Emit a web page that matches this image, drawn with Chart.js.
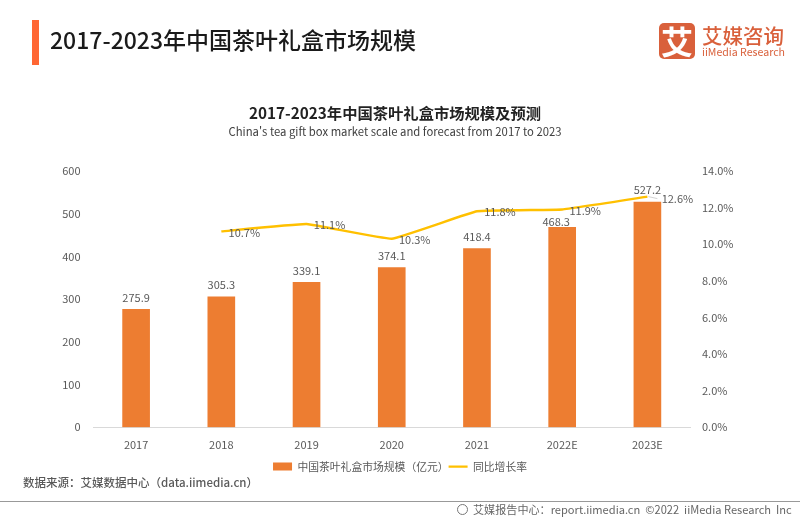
<!DOCTYPE html>
<html lang="zh">
<head>
<meta charset="utf-8">
<script src="https://cdn.jsdelivr.net/npm/chart.js@4"></script>
<style>
html,body{margin:0;padding:0;background:#fff;width:800px;height:520px;overflow:hidden;font-family:"Noto Sans CJK SC",sans-serif}
#wrap{position:relative;width:800px;height:520px}
canvas{position:absolute;left:0;top:0}
.t{position:absolute;white-space:nowrap;line-height:1}
</style>
</head>
<body>
<div id="wrap">
<canvas id="c" width="800" height="520"></canvas>
<div style="position:absolute;left:32px;top:20px;width:7px;height:45px;background:#FF6633"></div>
<div class="t" style="left:50px;top:28px;font-size:23px;font-weight:500;color:#1a1a1a">2017-2023年中国茶叶礼盒市场规模</div>
<div style="position:absolute;left:659px;top:23px;width:36px;height:36px;border-radius:5px;background:#D9603B;color:#fff;font-size:32px;line-height:34px;text-align:center;font-weight:700">艾</div>
<div class="t" style="left:702px;top:25px;font-size:20.5px;font-weight:500;color:#D9603B">艾媒咨询</div>
<div class="t" style="left:702px;top:47px;font-size:10.6px;color:#D9603B">iiMedia Research</div>
<div class="t" style="left:0;width:790px;text-align:center;top:105px;font-size:15.3px;font-weight:700;color:#222">2017-2023年中国茶叶礼盒市场规模及预测</div>
<div class="t" style="left:0;width:790px;text-align:center;top:126px;font-size:11.3px;color:#404040">China's tea gift box market scale and forecast from 2017 to 2023</div>
<div class="t" style="left:23px;top:477px;font-size:11.5px;font-weight:500;color:#595959">数据来源：艾媒数据中心（data.iimedia.cn）</div>
<div style="position:absolute;left:0;top:501px;width:800px;height:1px;background:#999"></div>
<div style="position:absolute;left:457px;top:504px;width:9px;height:9px;border:1.5px solid #777;border-radius:50%"></div>
<div class="t" style="left:473px;top:504px;font-size:11.1px;color:#666">艾媒报告中心：report.iimedia.cn &nbsp;©2022 &nbsp;iiMedia Research &nbsp;Inc</div>
</div>
<script>
const categories = ["2017","2018","2019","2020","2021","2022E","2023E"];
const marketScale = [275.9,305.3,339.1,374.1,418.4,468.3,527.2];
const growthRate = [null,10.7,11.1,10.3,11.8,11.9,12.6];
const leftTicks = [0,100,200,300,400,500,600];
const rightTicks = [0,2,4,6,8,10,12,14];

const FONT = '"Noto Sans CJK SC",sans-serif';
const TEXT = '#595959';

const valueLabels = {
  id:'valueLabels',
  afterDatasetsDraw(chart){
    const {ctx,scales} = chart;
    ctx.save();
    ctx.font = '11px '+FONT;
    ctx.fillStyle = TEXT;
    ctx.textBaseline = 'middle';
    ctx.textAlign = 'center';
    marketScale.forEach((v,i)=>{
      const moved = i===5;
      ctx.fillText(v.toFixed(1), scales.x.getPixelForValue(i)+(moved?-6:0), scales.y.getPixelForValue(v)+(moved?-5:-12));
    });
    growthRate.forEach((v,i)=>{
      if(v===null) return;
      const last = i===growthRate.length-1;
      const x = scales.x.getPixelForValue(i), y = scales.y1.getPixelForValue(v);
      if(last){
        ctx.strokeStyle='#BFBFBF';ctx.lineWidth=0.7;
        ctx.beginPath();ctx.moveTo(x+1,y);ctx.lineTo(x+10,y+2);ctx.stroke();
      }
      ctx.fillText(v.toFixed(1)+'%', x+(last?30:23), y+(last?2:1));
    });
    ctx.restore();
  }
};

new Chart(document.getElementById('c'),{
  data:{
    labels:categories,
    datasets:[
      {type:'line',label:'同比增长率',data:growthRate,yAxisID:'y1',borderColor:'#FFC000',backgroundColor:'#FFC000',borderWidth:2.4,pointRadius:0,tension:0.08,spanGaps:false,order:1},
      {type:'bar',label:'中国茶叶礼盒市场规模（亿元）',data:marketScale,yAxisID:'y',backgroundColor:'#ED7D31',barThickness:27,order:2}
    ]
  },
  options:{
    responsive:false,
    animation:false,
    devicePixelRatio:1,
    layout:{padding:{left:0,right:0,top:171,bottom:38}},
    plugins:{
      tooltip:{enabled:false},
      title:{display:false},
      legend:{
        display:true,
        position:'bottom',
        reverse:true,
        labels:{
          usePointStyle:true,
          pointStyleWidth:19,
          boxHeight:8,
          padding:0,
          color:TEXT,
          font:{size:10.8,family:FONT},
          generateLabels(chart){
            return chart.data.datasets.map((d,i)=>({
              text:d.label,
              datasetIndex:i,
              fillStyle:d.backgroundColor,
              strokeStyle:d.type==='line'?d.borderColor:d.backgroundColor,
              lineWidth:d.type==='line'?2.2:0,
              pointStyle:d.type==='line'?'line':'rect',
              fontColor:TEXT
            }));
          }
        }
      }
    },
    scales:{
      x:{
        grid:{display:false},
        border:{color:'#D9D9D9',width:1},
        ticks:{color:TEXT,font:{size:11,family:FONT},padding:3,maxRotation:0},
        afterFit(s){s.height=34;}
      },
      y:{
        position:'left',min:0,max:600,
        grid:{display:false},border:{display:false},
        afterBuildTicks(s){s.ticks=leftTicks.map(v=>({value:v}));},
        ticks:{color:TEXT,font:{size:11,family:FONT},padding:5},
        afterFit(s){s.width=93.5;}
      },
      y1:{
        position:'right',min:0,max:14,
        grid:{display:false},border:{display:false},
        afterBuildTicks(s){s.ticks=rightTicks.map(v=>({value:v}));},
        ticks:{color:TEXT,font:{size:11,family:FONT},padding:4,callback:v=>v.toFixed(1)+'%'},
        afterFit(s){s.width=110;}
      }
    }
  },
  plugins:[valueLabels]
});
</script>
</body>
</html>
